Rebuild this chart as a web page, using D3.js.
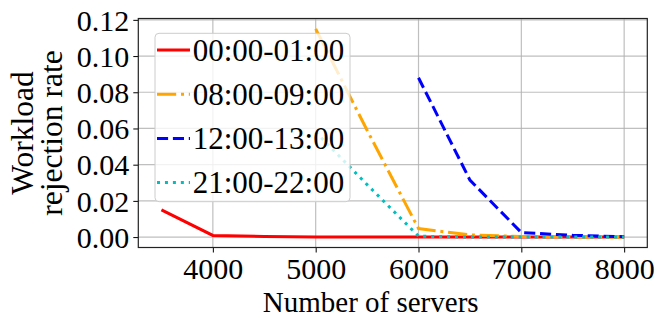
<!DOCTYPE html>
<html>
<head>
<meta charset="utf-8">
<script src="https://cdn.jsdelivr.net/npm/d3@7"></script>
<style>
  body { margin: 0; background: #fff; }
  text { font-family: "Liberation Serif", "Times New Roman", serif; fill: #000; }
</style>
</head>
<body>
<div id="chart"></div>
<script>
// Data
const servers = [3500, 4000, 4500, 5000, 5500, 6000, 6500, 7000, 7500, 8000];
const rate_00_01 = [0.015, 0.0009, 0.0003, 0.0001, 0, 0, 0, 0, 0, 0];
const rate_08_09 = [null, null, null, 0.115, 0.059, 0.0047, 0.0012, 0.0003, 0.0001, 0];
const rate_12_13 = [null, null, null, null, null, 0.088, 0.0315, 0.0025, 0.001, 0.0002];
const rate_21_22 = [null, null, null, 0.058, 0.029, 0.0005, 0, 0, 0, 0];
const xTicks = [4000, 5000, 6000, 7000, 8000];
const yTicks = [0, 0.02, 0.04, 0.06, 0.08, 0.10, 0.12];

const series = [
    { name: "00:00-01:00", values: rate_00_01, color: "#ff0000", dash: null },
    { name: "08:00-09:00", values: rate_08_09, color: "#ffa500", dash: "19.2,4.8,3,4.8" },
    { name: "12:00-13:00", values: rate_12_13, color: "#0000ff", dash: "11.1,4.8" },
    { name: "21:00-22:00", values: rate_21_22, color: "#00bfbf", dash: "3,4.95" }
];

// Set the dimensions and margins of the diagram
let width = 664, height = 327,
    margin = { top: 18.5, right: 16.7, bottom: 79.5, left: 138.3 };

let svg = d3.select("#chart")
    .append("svg")
    .attr("width", width)
    .attr("height", height);

let innerW = width - margin.left - margin.right,
    innerH = height - margin.top - margin.bottom;

let g = svg.append("g")
    .attr("transform", "translate(" + margin.left + "," + margin.top + ")");

// matplotlib style 5% margins
let x = d3.scaleLinear().domain([3275, 8225]).range([0, innerW]);
let y = d3.scaleLinear().domain([-0.00575, 0.12075]).range([innerH, 0]);

// grid
g.append("g").selectAll("line").data(xTicks).enter().append("line")
    .attr("x1", d => x(d)).attr("x2", d => x(d))
    .attr("y1", 0).attr("y2", innerH)
    .attr("stroke", "#b0b0b0").attr("stroke-width", 1.2).attr("opacity", 0.8);
g.append("g").selectAll("line").data(yTicks).enter().append("line")
    .attr("y1", d => y(d)).attr("y2", d => y(d))
    .attr("x1", 0).attr("x2", innerW)
    .attr("stroke", "#b0b0b0").attr("stroke-width", 1.2).attr("opacity", 0.8);

// lines
let line = d3.line()
    .defined(d => d[1] !== null)
    .x(d => x(d[0]))
    .y(d => y(d[1]));

series.forEach(function(s) {
    g.append("path")
        .datum(servers.map((v, i) => [v, s.values[i]]))
        .attr("fill", "none")
        .attr("stroke", s.color)
        .attr("stroke-width", 3)
        .attr("stroke-dasharray", s.dash)
        .attr("d", line);
});

// axes
let xAxis = g.append("g")
    .attr("transform", "translate(0," + innerH + ")")
    .call(d3.axisBottom(x).tickValues(xTicks).tickFormat(d3.format("d")).tickSize(5).tickPadding(5));
let yAxis = g.append("g")
    .call(d3.axisLeft(y).tickValues(yTicks).tickFormat(d3.format(".2f")).tickSize(5).tickPadding(4));

[xAxis, yAxis].forEach(function(a) {
    a.select(".domain").remove();
    a.selectAll("line").attr("stroke", "#000").attr("stroke-width", 1);
    a.selectAll("text")
        .style("font-family", "'Liberation Serif', serif")
        .style("font-size", "30px");
});
xAxis.selectAll("text").attr("dy", "0.71em");
yAxis.selectAll("text").attr("dy", "0.34em");

// frame
g.append("rect")
    .attr("width", innerW).attr("height", innerH)
    .attr("fill", "none").attr("stroke", "#222").attr("stroke-width", 1.2);

// axis labels
svg.append("text")
    .attr("x", 370.7).attr("y", 311.5)
    .attr("text-anchor", "middle")
    .style("font-size", "29px")
    .text("Number of servers");

let ylab = svg.append("text")
    .attr("transform", "translate(33," + (margin.top + innerH / 2) + ") rotate(-90)")
    .attr("text-anchor", "middle")
    .style("font-size", "31.5px");
ylab.append("tspan").attr("x", 0).attr("y", 0).text("Workload");
ylab.append("tspan").attr("x", 0).attr("y", 28.5).text("rejection rate");

// legend
let legend = svg.append("g");
legend.append("rect")
    .attr("x", 155).attr("y", 33.3)
    .attr("width", 195).attr("height", 168.4)
    .attr("rx", 4)
    .attr("fill", "#fff").attr("fill-opacity", 0.8)
    .attr("stroke", "#cccccc").attr("stroke-width", 1);

series.forEach(function(s, i) {
    let cy = 50 + i * 44.2;
    legend.append("line")
        .attr("x1", 157).attr("x2", 190)
        .attr("y1", cy).attr("y2", cy)
        .attr("stroke", s.color)
        .attr("stroke-width", 3)
        .attr("stroke-dasharray", s.dash);
    legend.append("text")
        .attr("x", 192.7).attr("y", cy)
        .attr("dy", "0.34em")
        .style("font-size", "31px")
        .text(s.name);
});
</script>
</body>
</html>
